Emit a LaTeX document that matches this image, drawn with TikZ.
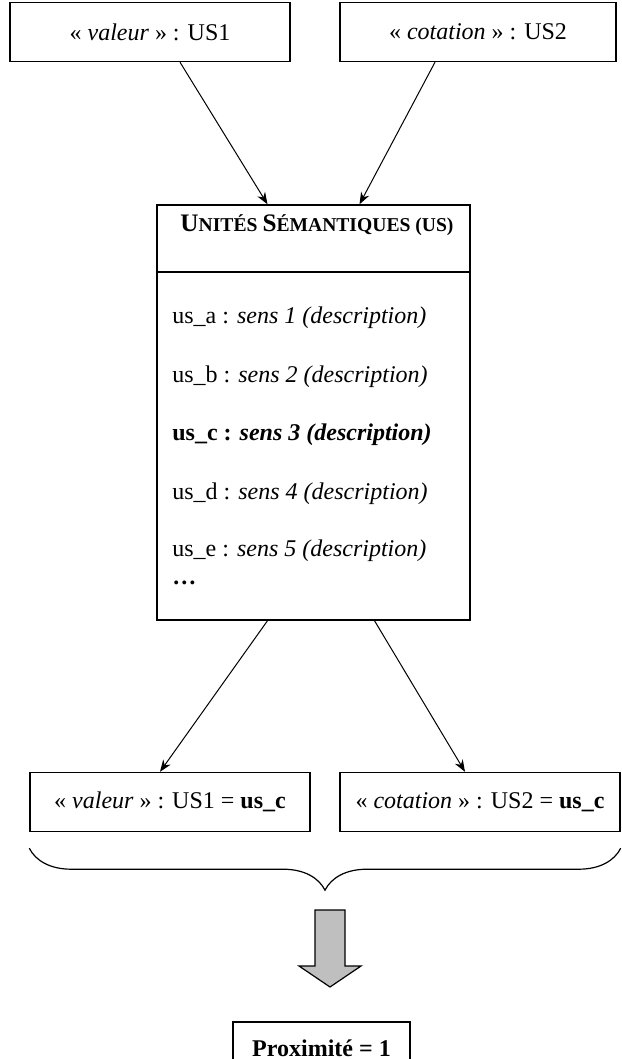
\documentclass[tikz,border=0pt]{standalone}
\usepackage{fontspec}
\setmainfont{Liberation Serif}
\usetikzlibrary{arrows.meta,positioning,calc,decorations.pathreplacing}

\newcommand{\grandp}{\fontsize{12}{14}\selectfont}
\newcommand{\titrep}{\fontsize{12.6}{14}\selectfont}
\newcommand{\petitp}{\fontsize{9.8}{11}\selectfont}

\begin{document}
\begin{tikzpicture}[
  x=0.5pt, y=-0.5pt,
  boite/.style={draw, line width=0.7pt, minimum width=140pt, minimum height=29.5pt, inner sep=0pt, font=\grandp},
  ligne/.style={anchor=west, inner sep=0pt, font=\grandp},
  fleche/.style={-{Stealth[length=6pt,width=4.5pt]}, line width=0.5pt}
]
\useasboundingbox (0,0) rectangle (621,1059);
% etiquettes du haut
\node[boite] (v1) at (150,32) {« \textit{valeur} » : US1};
\node[boite, minimum width=138pt] (c2) at (478,32) {« \textit{cotation} » : US2};
% unites semantiques
\node[draw, line width=0.7pt, minimum width=156.5pt, minimum height=207.5pt] (us) at (313.5,412.5) {};
\node[font=\bfseries, inner sep=0pt] (titre) at (317,225)
  {{\titrep U}{\petitp NITÉS} {\titrep S}{\petitp ÉMANTIQUES (US)}};
\draw[line width=0.7pt] (us.west |- 0,272) -- (us.east |- 0,272);
\node[ligne] (a) at (172,318) {us\_a : \textit{sens 1 (description)}};
\node[ligne] (b) at (172,377) {us\_b : \textit{sens 2 (description)}};
\node[ligne, font=\grandp\bfseries] (c) at (172,435) {us\_c : \textit{sens 3 (description)}};
\node[ligne] (d) at (172,494) {us\_d : \textit{sens 4 (description)}};
\node[ligne] (e) at (172,551) {us\_e : \textit{sens 5 (description)}};
\node[ligne, font=\grandp\bfseries] (f) at (172,583) {…};
% etiquettes du bas
\node[boite] (v1c) at (170,802) {« \textit{valeur} » : US1 = \textbf{us\_c}};
\node[boite] (c2c) at (480,802) {« \textit{cotation} » : US2 = \textbf{us\_c}};
\node[boite, minimum width=88.5pt, minimum height=26pt] (prox) at (321.5,1048) {\textbf{Proximité = 1}};
% connecteurs
\draw[fleche] ([xshift=15pt]v1.south) -- ([xshift=-23pt]us.north);
\draw[fleche] ([xshift=-21.5pt]c2.south) -- ([xshift=23pt]us.north);
\draw[fleche] ([xshift=-23pt]us.south) -- ([xshift=-5pt]v1c.north);
\draw[fleche] ([xshift=30.5pt]us.south) -- ([xshift=-7.5pt]c2c.north);
\draw[line width=0.6pt, decorate, decoration={brace, mirror, amplitude=21pt}]
  ([yshift=-8pt]v1c.south west) -- ([yshift=-8pt]c2c.south east);
\draw[line width=0.6pt, fill=gray!50]
  (315,910) -- (345,910) -- (345,966) -- (361,966) -- (330,987) -- (299,966) -- (315,966) -- cycle;
\end{tikzpicture}
\end{document}
